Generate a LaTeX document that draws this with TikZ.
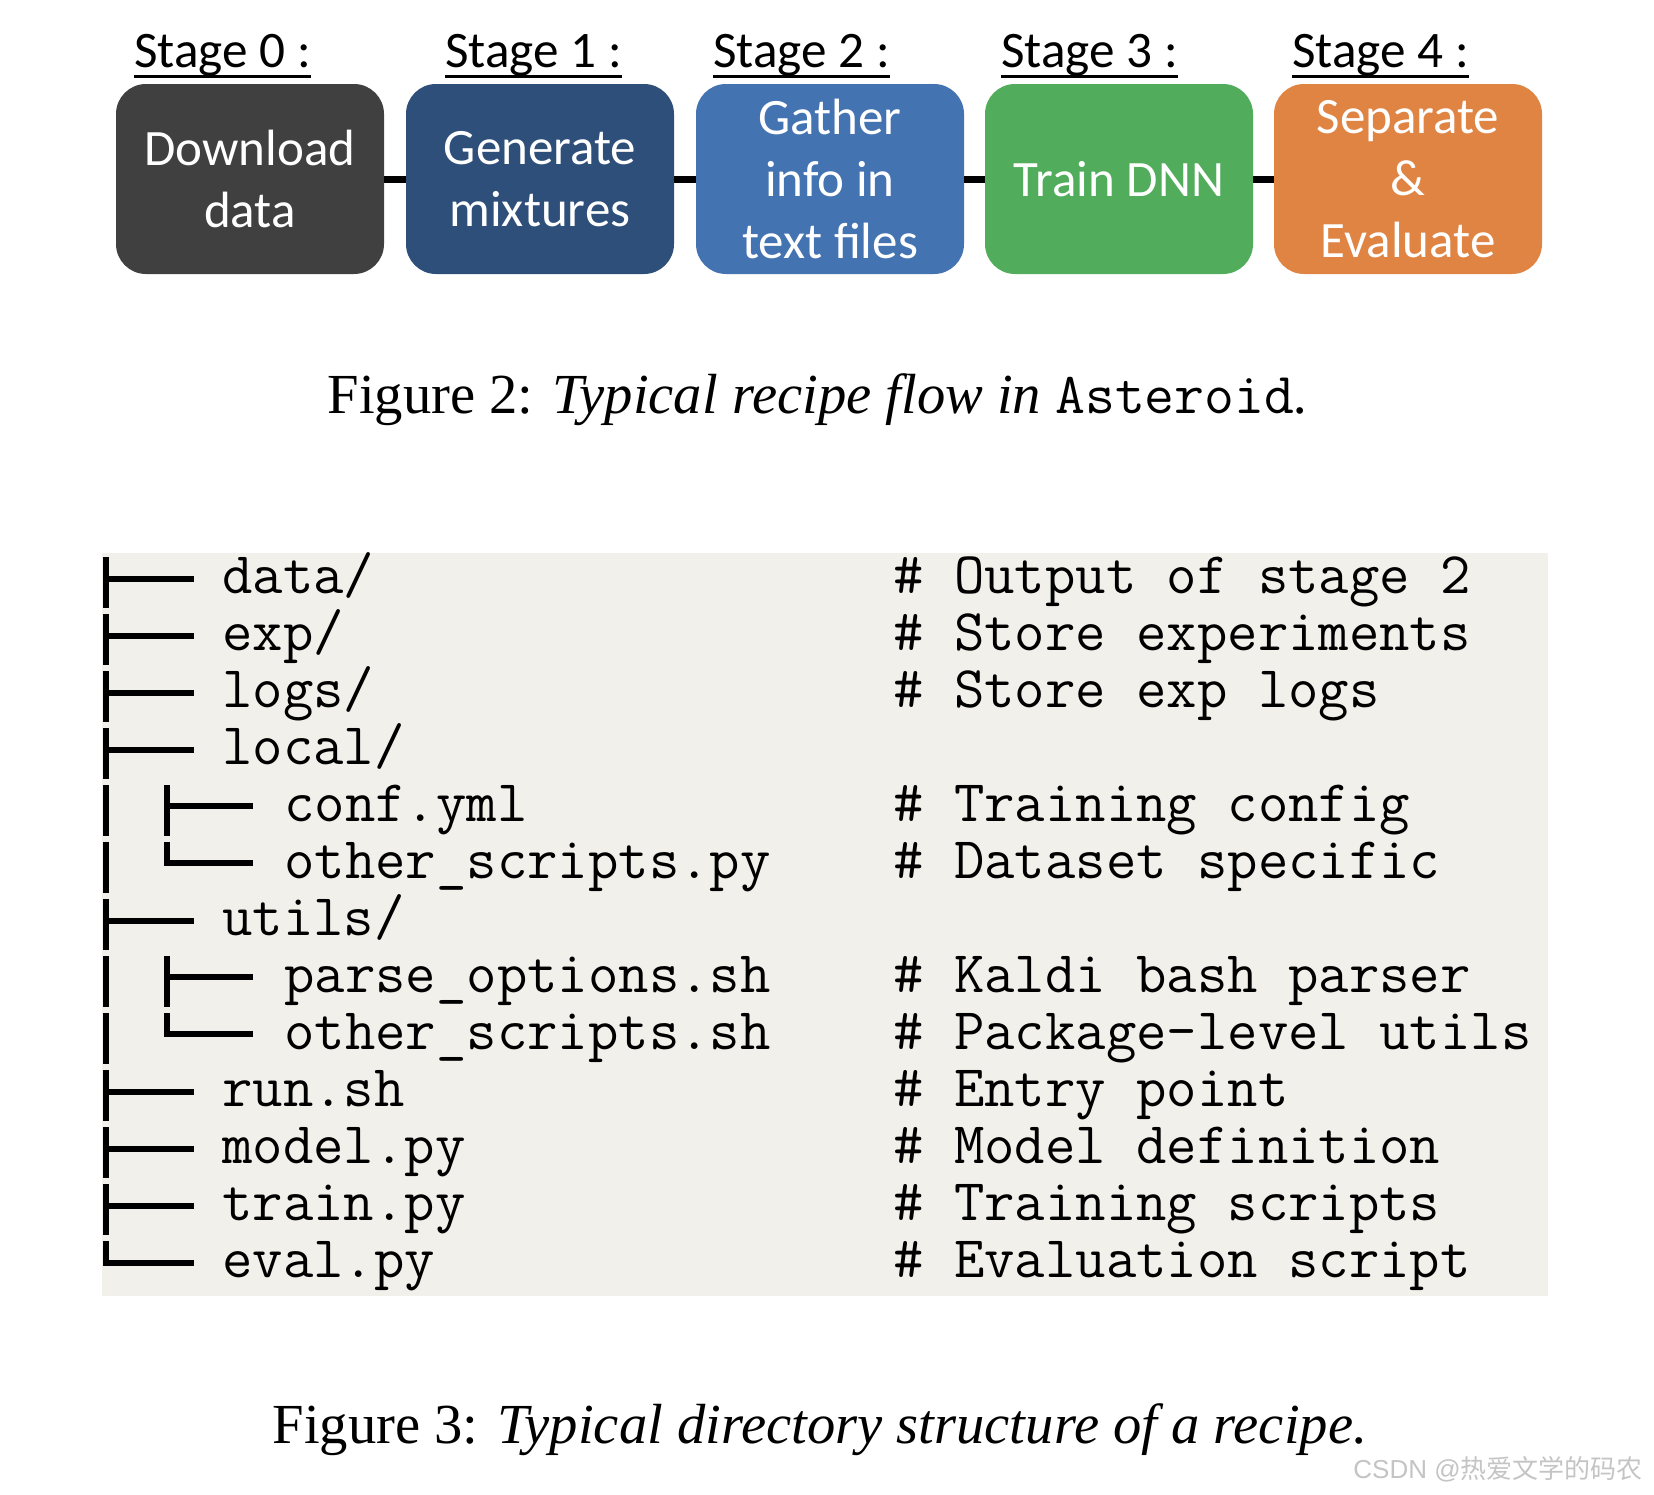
\documentclass[tikz,border=0pt]{standalone}
\usepackage{fontspec}
\setmainfont{Liberation Serif}
\newfontfamily\carlito{Carlito}
\newfontfamily\wmsans{Liberation Sans}
\newfontfamily\wmcjk{Noto Sans CJK SC}
\definecolor{stzero}{HTML}{404040}
\definecolor{stone}{HTML}{2E4F7A}
\definecolor{sttwo}{HTML}{4473B1}
\definecolor{stthree}{HTML}{51AD5C}
\definecolor{stfour}{HTML}{E08443}
\definecolor{treebg}{HTML}{F1F0EA}
\definecolor{wmgray}{HTML}{C4C4C4}
\begin{document}
\begin{tikzpicture}[x=0.5pt,y=-0.5pt,
  stagebox/.style={rounded corners=15pt, minimum width=134pt, minimum height=95pt,
    inner sep=0pt, align=center, text=white, font=\carlito\fontsize{25.5}{31}\selectfont},
  stagelbl/.style={anchor=base west, inner sep=0pt, font=\carlito\fontsize{25.6}{30}\selectfont},
  uline/.style={line width=1.5pt},
  conn/.style={line width=3.5pt},
  caption/.style={anchor=base, inner sep=0pt, font=\fontsize{28.3}{33}\selectfont},
  fname/.style={anchor=base west, inner sep=0pt, font=\ttfamily\fontsize{29.5}{34}\selectfont},
  cmt/.style={anchor=base west, inner sep=0pt, font=\ttfamily\fontsize{29.5}{34}\selectfont},
  treeline/.style={line width=3pt},
]
\useasboundingbox (0,0) rectangle (1654,1494);

% ---------- Figure 2 ----------
\node[stagebox, fill=stzero]  (b0) at (250,179)  {Download\\data};
\node[stagebox, fill=stone]   (b1) at (540,179)  {Generate\\mixtures};
\node[stagebox, fill=sttwo]   (b2) at (830,179)  {Gather\\info in\\text files};
\node[stagebox, fill=stthree] (b3) at (1119,179) {Train DNN};
\node[stagebox, fill=stfour]  (b4) at (1408,179) {Separate\\\&\\Evaluate};

\draw[conn] (b0.east) -- (b1.west);
\draw[conn] (b1.east) -- (b2.west);
\draw[conn] (b2.east) -- (b3.west);
\draw[conn] (b3.east) -- (b4.west);

\node[stagelbl] (s0) at (134,67)  {Stage 0 :};
\node[stagelbl] (s1) at (445,67)  {Stage 1 :};
\node[stagelbl] (s2) at (713,67)  {Stage 2 :};
\node[stagelbl] (s3) at (1001,67) {Stage 3 :};
\node[stagelbl] (s4) at (1292,67) {Stage 4 :};
\foreach \s in {s0,s1,s2,s3,s4}
  \draw[uline] ([yshift=-4.5pt]\s.base west) -- ([yshift=-4.5pt]\s.base east);

\node[caption] (cap2) at (818,413) {Figure 2: \textit{Typical recipe flow in }{\ttfamily\fontsize{29}{33}\selectfont Asteroid}\textit{.}};

% ---------- Figure 3 ----------
\fill[treebg] (102,553) rectangle (1548,1296);

% main vertical line segments
\foreach \i in {0,...,11}
  \draw[treeline] (106,{593+57*\i-36}) -- (106,{593+57*\i+15});
\draw[treeline] (106,{593+57*12-36}) -- (106,{593+57*12-14});
% main horizontals
\foreach \i in {0,1,2,3,6,9,10,11,12}
  \draw[treeline] (103,{593+57*\i-14}) -- (194,{593+57*\i-14});
% nested branches
\foreach \i in {4,7}{
  \draw[treeline] (167,{593+57*\i-36}) -- (167,{593+57*\i+15});
  \draw[treeline] (164,{593+57*\i-15}) -- (253,{593+57*\i-15});
}
\foreach \i in {5,8}{
  \draw[treeline] (167,{593+57*\i-36}) -- (167,{593+57*\i-15});
  \draw[treeline] (164,{593+57*\i-15}) -- (253,{593+57*\i-15});
}

\node[fname] (n0)  at (222,593)  {data/};
\node[fname] (n1)  at (222,650)  {exp/};
\node[fname] (n2)  at (222,707)  {logs/};
\node[fname] (n3)  at (222,764)  {local/};
\node[fname] (n4)  at (284,821)  {conf.yml};
\node[fname] (n5)  at (284,878)  {other\_scripts.py};
\node[fname] (n6)  at (222,935)  {utils/};
\node[fname] (n7)  at (284,992)  {parse\_options.sh};
\node[fname] (n8)  at (284,1049) {other\_scripts.sh};
\node[fname] (n9)  at (222,1106) {run.sh};
\node[fname] (n10) at (222,1163) {model.py};
\node[fname] (n11) at (222,1220) {train.py};
\node[fname] (n12) at (222,1277) {eval.py};

\node[cmt] (c0)  at (893,593)  {\# Output of stage 2};
\node[cmt] (c1)  at (893,650)  {\# Store experiments};
\node[cmt] (c2)  at (893,707)  {\# Store exp logs};
\node[cmt] (c4)  at (893,821)  {\# Training config};
\node[cmt] (c5)  at (893,878)  {\# Dataset specific};
\node[cmt] (c7)  at (893,992)  {\# Kaldi bash parser};
\node[cmt] (c8)  at (893,1049) {\# Package-level utils};
\node[cmt] (c9)  at (893,1106) {\# Entry point};
\node[cmt] (c10) at (893,1163) {\# Model definition};
\node[cmt] (c11) at (893,1220) {\# Training scripts};
\node[cmt] (c12) at (893,1277) {\# Evaluation script};

\node[caption] (cap3) at (820,1443) {Figure 3: \textit{Typical directory structure of a recipe.}};

\node[anchor=base west, inner sep=0pt, text=wmgray, font=\fontsize{13}{15}\selectfont] (wm) at (1353,1478) {\wmsans CSDN @\wmcjk 热爱文学的码农};
\end{tikzpicture}
\end{document}
